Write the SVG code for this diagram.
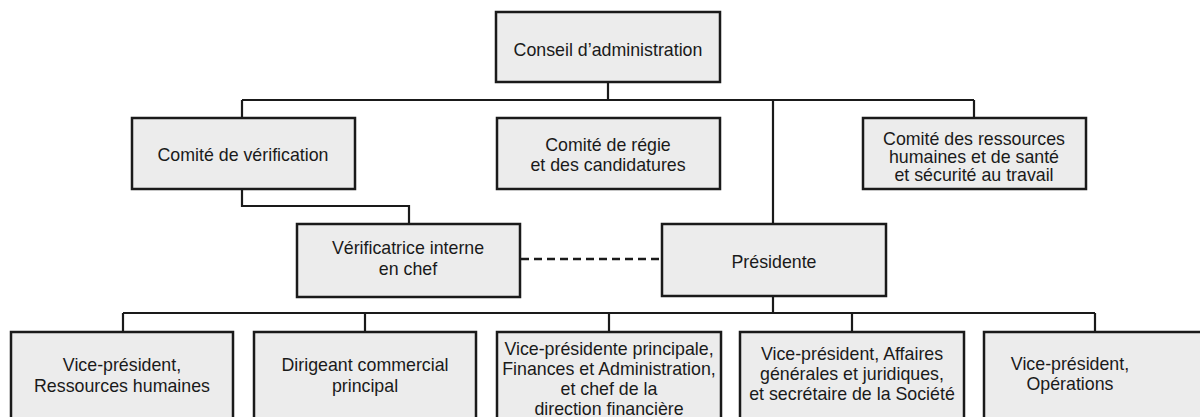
<svg xmlns="http://www.w3.org/2000/svg" width="1200" height="417" viewBox="0 0 1200 417">
<style>
.box{fill:#ececec;stroke:#1a1a1a;stroke-width:2.5}
.t{font-family:"Liberation Sans",Arial,sans-serif;font-size:17.8px;fill:#1a1a1a;text-anchor:middle}
.ln{fill:none;stroke:#1a1a1a;stroke-width:2.2}
.dash{fill:none;stroke:#1a1a1a;stroke-width:2.5;stroke-dasharray:8 5}
</style>
<rect width="1200" height="417" fill="#ffffff"/>
<g id="connectors">
<path class="ln" d="M608 82V100M242 100H974M242 100V118M974 100V118M773 100V224"/>
<path class="ln" d="M242 189V206H409V224"/>
<path class="ln" d="M773 296V313M123 313H1095M123 313V332M365 313V332M609 313V332M852 313V332M1095 313V332"/>
<path class="dash" d="M521 259H662"/>
</g>
<g id="conseil"><rect class="box" x="496" y="12" width="224" height="70"/><text class="t" x="608" y="56">Conseil d’administration</text></g>
<g id="verification"><rect class="box" x="132" y="118" width="223" height="71"/><text class="t" x="243" y="161">Comité de vérification</text></g>
<g id="regie"><rect class="box" x="497" y="118" width="223" height="71"/><text class="t" x="608" y="151">Comité de régie</text><text class="t" x="608" y="171">et des candidatures</text></g>
<g id="rh-comite"><rect class="box" x="863" y="118" width="223" height="71"/><text class="t" x="974" y="145">Comité des ressources</text><text class="t" x="974" y="163">humaines et de santé</text><text class="t" x="974" y="181">et sécurité au travail</text></g>
<g id="verificatrice"><rect class="box" x="297" y="224" width="223" height="73"/><text class="t" x="408" y="254">Vérificatrice interne</text><text class="t" x="408" y="275">en chef</text></g>
<g id="presidente"><rect class="box" x="662" y="224" width="224" height="72"/><text class="t" x="774" y="268">Présidente</text></g>
<g id="vp-rh"><rect class="box" x="11" y="332" width="222" height="110"/><text class="t" x="122" y="371">Vice-président,</text><text class="t" x="122" y="392">Ressources humaines</text></g>
<g id="dirigeant"><rect class="box" x="254" y="332" width="222" height="110"/><text class="t" x="365" y="371">Dirigeant commercial</text><text class="t" x="365" y="392">principal</text></g>
<g id="vp-finances"><rect class="box" x="497" y="332" width="224" height="110"/><text class="t" x="609" y="355">Vice-présidente principale,</text><text class="t" x="609" y="375">Finances et Administration,</text><text class="t" x="609" y="395">et chef de la</text><text class="t" x="609" y="415">direction financière</text></g>
<g id="vp-affaires"><rect class="box" x="740" y="332" width="224" height="110"/><text class="t" x="852" y="360">Vice-président, Affaires</text><text class="t" x="852" y="380">générales et juridiques,</text><text class="t" x="852" y="400">et secrétaire de la Société</text></g>
<g id="vp-operations"><rect class="box" x="984" y="332" width="224" height="110"/><text class="t" x="1070" y="370">Vice-président,</text><text class="t" x="1070" y="390">Opérations</text></g>
</svg>
